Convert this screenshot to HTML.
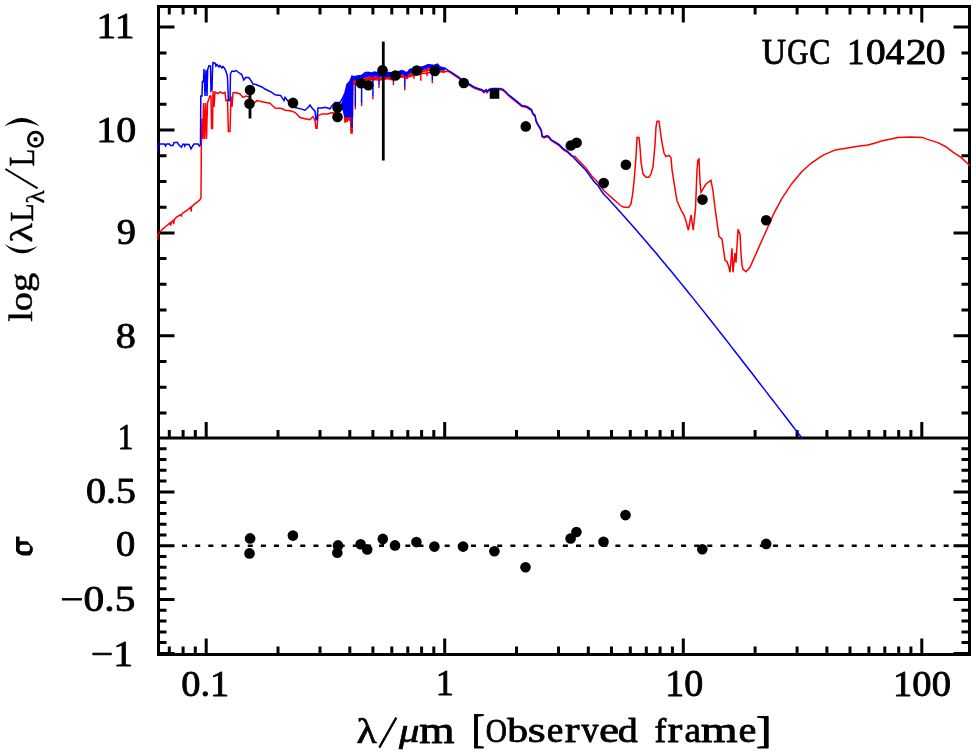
<!DOCTYPE html><html><head><meta charset="utf-8"><style>html,body{margin:0;padding:0;background:#fff;width:976px;height:754px;overflow:hidden}</style></head><body><svg width="976" height="754" viewBox="0 0 976 754" style="position:absolute;left:0;top:0;will-change:transform">
<rect width="976" height="754" fill="#fff"/>
<g stroke="#000" stroke-width="3" fill="none">
<rect x="158.5" y="6.5" width="811.0" height="648.0"/>
<line x1="158.5" y1="438.0" x2="969.5" y2="438.0"/>
<path d="M169.3 6.5L169.3 14.5 M169.3 438.0L169.3 430.0 M169.3 654.5L169.3 646.5 M183.1 6.5L183.1 14.5 M183.1 438.0L183.1 430.0 M183.1 654.5L183.1 646.5 M195.3 6.5L195.3 14.5 M195.3 438.0L195.3 430.0 M195.3 654.5L195.3 646.5 M206.2 6.5L206.2 22.5 M206.2 438.0L206.2 422.0 M206.2 654.5L206.2 638.5 M278.0 6.5L278.0 14.5 M278.0 438.0L278.0 430.0 M278.0 654.5L278.0 646.5 M320.0 6.5L320.0 14.5 M320.0 438.0L320.0 430.0 M320.0 654.5L320.0 646.5 M349.8 6.5L349.8 14.5 M349.8 438.0L349.8 430.0 M349.8 654.5L349.8 646.5 M372.9 6.5L372.9 14.5 M372.9 438.0L372.9 430.0 M372.9 654.5L372.9 646.5 M391.8 6.5L391.8 14.5 M391.8 438.0L391.8 430.0 M391.8 654.5L391.8 646.5 M407.8 6.5L407.8 14.5 M407.8 438.0L407.8 430.0 M407.8 654.5L407.8 646.5 M421.6 6.5L421.6 14.5 M421.6 438.0L421.6 430.0 M421.6 654.5L421.6 646.5 M433.8 6.5L433.8 14.5 M433.8 438.0L433.8 430.0 M433.8 654.5L433.8 646.5 M444.7 6.5L444.7 22.5 M444.7 438.0L444.7 422.0 M444.7 654.5L444.7 638.5 M516.5 6.5L516.5 14.5 M516.5 438.0L516.5 430.0 M516.5 654.5L516.5 646.5 M558.5 6.5L558.5 14.5 M558.5 438.0L558.5 430.0 M558.5 654.5L558.5 646.5 M588.3 6.5L588.3 14.5 M588.3 438.0L588.3 430.0 M588.3 654.5L588.3 646.5 M611.5 6.5L611.5 14.5 M611.5 438.0L611.5 430.0 M611.5 654.5L611.5 646.5 M630.3 6.5L630.3 14.5 M630.3 438.0L630.3 430.0 M630.3 654.5L630.3 646.5 M646.3 6.5L646.3 14.5 M646.3 438.0L646.3 430.0 M646.3 654.5L646.3 646.5 M660.1 6.5L660.1 14.5 M660.1 438.0L660.1 430.0 M660.1 654.5L660.1 646.5 M672.4 6.5L672.4 14.5 M672.4 438.0L672.4 430.0 M672.4 654.5L672.4 646.5 M683.3 6.5L683.3 22.5 M683.3 438.0L683.3 422.0 M683.3 654.5L683.3 638.5 M755.1 6.5L755.1 14.5 M755.1 438.0L755.1 430.0 M755.1 654.5L755.1 646.5 M797.1 6.5L797.1 14.5 M797.1 438.0L797.1 430.0 M797.1 654.5L797.1 646.5 M826.9 6.5L826.9 14.5 M826.9 438.0L826.9 430.0 M826.9 654.5L826.9 646.5 M850.0 6.5L850.0 14.5 M850.0 438.0L850.0 430.0 M850.0 654.5L850.0 646.5 M868.9 6.5L868.9 14.5 M868.9 438.0L868.9 430.0 M868.9 654.5L868.9 646.5 M884.8 6.5L884.8 14.5 M884.8 438.0L884.8 430.0 M884.8 654.5L884.8 646.5 M898.7 6.5L898.7 14.5 M898.7 438.0L898.7 430.0 M898.7 654.5L898.7 646.5 M910.9 6.5L910.9 14.5 M910.9 438.0L910.9 430.0 M910.9 654.5L910.9 646.5 M921.8 6.5L921.8 22.5 M921.8 438.0L921.8 422.0 M921.8 654.5L921.8 638.5 M158.5 412.9L166.5 412.9 M969.5 412.9L961.5 412.9 M158.5 387.2L166.5 387.2 M969.5 387.2L961.5 387.2 M158.5 361.5L166.5 361.5 M969.5 361.5L961.5 361.5 M158.5 335.8L174.5 335.8 M969.5 335.8L953.5 335.8 M158.5 310.1L166.5 310.1 M969.5 310.1L961.5 310.1 M158.5 284.3L166.5 284.3 M969.5 284.3L961.5 284.3 M158.5 258.6L166.5 258.6 M969.5 258.6L961.5 258.6 M158.5 232.9L174.5 232.9 M969.5 232.9L953.5 232.9 M158.5 207.2L166.5 207.2 M969.5 207.2L961.5 207.2 M158.5 181.5L166.5 181.5 M969.5 181.5L961.5 181.5 M158.5 155.8L166.5 155.8 M969.5 155.8L961.5 155.8 M158.5 130.0L174.5 130.0 M969.5 130.0L953.5 130.0 M158.5 104.3L166.5 104.3 M969.5 104.3L961.5 104.3 M158.5 78.6L166.5 78.6 M969.5 78.6L961.5 78.6 M158.5 52.9L166.5 52.9 M969.5 52.9L961.5 52.9 M158.5 27.1L174.5 27.1 M969.5 27.1L953.5 27.1 M158.5 653.4L174.5 653.4 M969.5 653.4L953.5 653.4 M158.5 642.6L166.5 642.6 M969.5 642.6L961.5 642.6 M158.5 631.9L166.5 631.9 M969.5 631.9L961.5 631.9 M158.5 621.1L166.5 621.1 M969.5 621.1L961.5 621.1 M158.5 610.3L166.5 610.3 M969.5 610.3L961.5 610.3 M158.5 599.6L174.5 599.6 M969.5 599.6L953.5 599.6 M158.5 588.8L166.5 588.8 M969.5 588.8L961.5 588.8 M158.5 578.0L166.5 578.0 M969.5 578.0L961.5 578.0 M158.5 567.2L166.5 567.2 M969.5 567.2L961.5 567.2 M158.5 556.5L166.5 556.5 M969.5 556.5L961.5 556.5 M158.5 545.7L174.5 545.7 M969.5 545.7L953.5 545.7 M158.5 534.9L166.5 534.9 M969.5 534.9L961.5 534.9 M158.5 524.2L166.5 524.2 M969.5 524.2L961.5 524.2 M158.5 513.4L166.5 513.4 M969.5 513.4L961.5 513.4 M158.5 502.6L166.5 502.6 M969.5 502.6L961.5 502.6 M158.5 491.9L174.5 491.9 M969.5 491.9L953.5 491.9 M158.5 481.1L166.5 481.1 M969.5 481.1L961.5 481.1 M158.5 470.3L166.5 470.3 M969.5 470.3L961.5 470.3 M158.5 459.5L166.5 459.5 M969.5 459.5L961.5 459.5 M158.5 448.8L166.5 448.8 M969.5 448.8L961.5 448.8"/>
</g>
<defs><clipPath id="cp"><rect x="157" y="5" width="814" height="435"/></clipPath></defs>
<g clip-path="url(#cp)" fill="none" stroke-linejoin="miter" stroke-width="1.5">
<polyline points="157.5,240.0 158.0,234.2 160.0,231.8 163.0,228.8 166.0,226.2 170.0,222.9 170.6,225.5 171.2,222.3 173.0,220.5 173.6,224.2 174.2,220.0 176.0,217.6 180.0,214.9 181.2,215.9 181.8,214.4 183.0,212.9 187.0,210.3 191.0,207.0 191.1,211.6 191.7,206.6 195.0,203.6 198.0,201.6 200.0,199.6 201.0,197.7 201.4,140.0 202.0,118.7 202.8,139.0 203.5,103.0 204.5,139.0 205.5,103.0 206.5,139.0 207.5,103.0 208.5,100.0 210.0,95.8 211.0,96.0 211.5,128.5 212.5,128.5 213.0,91.0 214.0,107.0 215.0,92.0 218.0,93.5 220.0,92.0 223.0,93.5 225.0,92.5 226.0,100.6 227.5,100.0 228.4,131.4 230.0,131.4 231.0,96.4 232.0,107.0 233.0,93.0 236.0,92.5 240.0,94.0 243.0,97.4 246.0,96.0 249.0,97.0 253.0,103.8 257.0,100.6 262.0,101.7 270.0,103.3 274.0,107.0 275.0,108.0 282.0,108.6 285.0,110.2 290.0,110.7 295.0,112.3 300.0,117.6 305.0,118.7 310.0,119.7 313.0,116.5 315.0,120.8 316.0,128.2 317.0,128.2 318.0,115.5 322.0,113.9 328.0,113.9 331.0,112.8 335.0,113.0 340.0,110.0 344.0,107.8 345.0,122.6 346.0,110.0 347.0,122.0 348.0,105.0 349.0,120.0 350.0,100.0 351.0,133.0 352.0,133.0 353.0,82.0 356.0,80.0 362.0,80.0 370.0,79.5 380.0,80.0 388.0,78.3 402.0,77.0 410.0,76.5 420.0,73.8 428.0,73.0 437.0,69.5 441.0,71.3 448.0,71.4 450.0,72.3 453.0,74.4 456.0,76.3 459.0,78.4 461.0,80.0 466.0,83.5 470.0,85.5 474.0,88.0 478.0,89.5 482.0,90.7 484.0,92.6 486.0,90.7 487.0,92.6 489.0,90.4 492.0,89.5 495.0,89.4 500.0,89.4 503.0,90.5 506.0,93.0 508.0,95.3 511.0,97.7 515.0,100.9 519.0,104.1 522.0,106.5 525.0,107.0 527.4,107.8 531.4,110.6 533.0,114.5 535.0,116.1 536.1,121.7 537.7,124.9 540.1,128.9 541.3,131.3 542.1,136.8 544.1,138.0 546.5,136.8 548.5,137.2 551.3,140.8 555.3,143.2 559.2,145.6 563.2,149.6 567.2,152.0 571.2,155.9 575.0,156.5 578.0,159.9 585.9,167.9 592.3,176.6 597.1,181.4 604.2,191.0 612.2,198.1 616.0,201.5 620.0,205.0 623.1,207.1 628.7,207.4 631.0,203.9 632.6,194.3 634.2,180.0 636.0,156.6 637.0,137.6 639.0,137.6 640.0,147.0 641.0,161.7 643.0,173.8 646.0,177.2 649.0,177.2 651.0,173.8 653.0,166.9 655.0,144.5 656.0,127.2 657.0,121.2 659.0,121.2 660.0,129.0 662.0,142.8 664.0,153.0 666.0,156.5 669.0,155.3 671.0,157.7 672.0,169.7 675.0,188.8 677.0,200.7 681.2,210.3 684.0,215.0 686.0,221.4 688.4,230.2 691.1,215.0 693.2,230.2 695.5,208.7 697.0,170.0 697.9,160.0 699.0,158.9 700.0,181.6 701.0,192.3 703.0,188.8 706.0,184.0 711.0,180.4 713.0,191.1 715.0,207.9 717.0,222.2 719.0,236.5 722.0,238.9 724.0,253.2 725.0,260.4 727.0,261.6 729.0,267.5 730.0,272.3 732.0,248.4 733.0,272.3 735.0,253.2 736.0,262.7 738.0,229.3 740.0,234.1 741.0,253.2 742.0,265.1 743.0,269.3 746.0,271.7 750.0,267.3 757.9,249.4 765.9,231.5 773.8,213.6 781.8,198.7 791.7,183.7 801.7,171.8 811.6,162.8 823.6,154.9 835.5,149.9 847.5,147.9 859.4,146.0 866.8,145.2 874.5,143.2 882.3,140.7 888.7,139.4 897.8,137.4 910.0,137.0 922.3,137.4 927.5,139.4 937.8,142.6 945.5,146.5 953.3,152.3 961.0,157.4 970.0,165.8" stroke="#ff0000"/>
<polyline points="157.5,152.0 158.0,144.0 164.5,144.0 165.5,146.0 166.5,144.0 169.5,144.0 170.5,145.5 173.0,145.5 174.0,142.5 177.5,142.5 178.5,144.5 181.5,147.3 183.0,144.0 184.3,144.3 184.8,146.0 185.5,144.3 189.0,144.5 191.0,148.9 193.0,145.5 194.0,144.0 198.0,144.0 199.5,146.0 200.5,145.0 200.8,96.0 202.0,96.0 202.4,81.5 203.5,81.5 204.0,69.0 205.0,96.0 206.0,70.0 207.0,96.0 207.7,69.0 208.3,68.0 209.0,65.6 210.5,66.0 211.0,91.0 212.0,90.0 212.5,70.0 213.0,62.4 215.0,63.0 216.0,66.0 217.0,64.5 219.0,67.0 220.0,65.5 222.0,68.0 223.0,66.5 225.0,69.0 226.5,73.0 227.5,77.0 228.4,100.6 230.0,100.6 230.5,73.6 232.0,71.0 234.0,71.4 236.0,70.5 238.0,72.0 240.0,73.5 241.7,74.6 243.8,80.0 245.9,77.3 249.0,77.8 252.3,82.6 253.0,84.0 256.0,84.5 258.7,85.8 262.0,87.0 265.0,89.0 268.0,90.5 271.4,92.1 275.0,94.8 280.6,95.4 284.0,100.6 285.0,97.4 290.0,103.8 295.0,107.5 300.0,108.6 305.0,110.2 308.0,107.5 310.0,105.0 312.0,108.0 315.0,111.2 316.0,119.7 317.0,119.7 318.0,108.0 322.0,108.0 325.0,107.2 330.0,108.8 332.0,105.6 335.0,102.5 340.0,102.5 343.0,97.2 345.0,92.9 347.0,84.4 350.0,81.2 352.0,76.0 354.0,77.0 357.0,75.9 362.0,75.4 365.0,72.7 368.0,72.2 372.0,73.3 374.0,72.1 380.0,73.0 388.0,72.5 395.0,73.0 402.0,70.5 407.0,73.0 410.0,69.3 416.0,69.0 423.0,67.6 428.0,64.8 434.0,65.5 437.5,64.2 440.0,67.0 445.0,68.2 448.0,70.4 450.0,71.3 453.0,73.4 456.0,75.3 459.0,77.4 461.0,79.0 466.0,82.5 470.0,84.5 474.0,87.0 478.0,88.5 482.0,89.7 484.0,91.6 486.0,89.7 487.0,91.6 489.0,89.4 492.0,88.5 495.0,88.4 500.0,88.4 503.0,89.5 506.0,92.0 508.0,94.3 511.0,96.7 515.0,99.9 519.0,103.1 522.0,105.5 525.0,106.0 527.4,106.8 531.4,109.6 533.0,113.5 535.0,115.1 536.1,120.7 537.7,123.9 540.1,127.9 541.3,130.3 542.1,135.8 544.1,137.0 546.5,135.8 548.5,136.2 551.3,139.8 555.3,142.2 559.2,144.6 563.2,148.6 567.2,151.0 571.2,154.9 578.0,162.3 585.9,170.3 593.9,181.4 597.9,185.4 601.8,191.5 604.0,194.4 608.0,198.6 612.0,203.0 616.0,207.3 620.0,211.8 624.0,216.2 628.0,220.7 632.0,225.2 636.0,229.8 640.0,234.4 644.0,239.0 648.0,243.7 652.0,248.4 656.0,253.1 660.0,257.9 664.0,262.7 668.0,267.5 672.0,272.3 676.0,277.2 680.0,282.1 684.0,287.0 688.0,292.0 692.0,296.9 696.0,301.9 700.0,306.9 704.0,311.9 708.0,317.0 712.0,322.0 716.0,327.1 720.0,332.2 724.0,337.3 728.0,342.4 732.0,347.6 736.0,352.7 740.0,357.8 744.0,363.0 748.0,368.2 752.0,373.3 756.0,378.5 760.0,383.7 764.0,388.9 768.0,394.1 772.0,399.3 776.0,404.4 780.0,409.6 784.0,414.8 788.0,420.0 792.0,425.2 796.0,430.4 800.0,435.5 801.3,437.2 802.5,438.8" stroke="#0000ff"/>
<line x1="345.5" y1="100" x2="345.5" y2="117" stroke="#0000ff" stroke-width="1.5"/>
<line x1="347" y1="95" x2="347" y2="116" stroke="#0000ff" stroke-width="1.5"/>
<line x1="348.5" y1="88" x2="348.5" y2="117" stroke="#0000ff" stroke-width="1.5"/>
<line x1="350" y1="84" x2="350" y2="116" stroke="#0000ff" stroke-width="1.5"/>
<line x1="352" y1="78" x2="352" y2="128" stroke="#0000ff" stroke-width="1.5"/>
<line x1="352" y1="128" x2="352" y2="133" stroke="#ff0000" stroke-width="1.5"/>
<line x1="353.7" y1="76" x2="353.7" y2="85.5" stroke="#ff0000" stroke-width="1.5"/>
<line x1="355.3" y1="77" x2="355.3" y2="106" stroke="#0000ff" stroke-width="1.5"/>
<line x1="355.3" y1="106" x2="355.3" y2="109.4" stroke="#ff0000" stroke-width="1.5"/>
<line x1="361.6" y1="76" x2="361.6" y2="103" stroke="#0000ff" stroke-width="1.5"/>
<line x1="361.6" y1="103" x2="361.6" y2="106.2" stroke="#ff0000" stroke-width="1.5"/>
<line x1="372.9" y1="73" x2="372.9" y2="96" stroke="#0000ff" stroke-width="1.5"/>
<line x1="372.9" y1="96" x2="372.9" y2="99.2" stroke="#ff0000" stroke-width="1.5"/>
<line x1="379" y1="73" x2="379" y2="85" stroke="#0000ff" stroke-width="1.5"/>
<line x1="379" y1="85" x2="379" y2="88.1" stroke="#ff0000" stroke-width="1.5"/>
<line x1="393.4" y1="74" x2="393.4" y2="82" stroke="#0000ff" stroke-width="1.5"/>
<line x1="393.4" y1="82" x2="393.4" y2="85.2" stroke="#ff0000" stroke-width="1.5"/>
<line x1="404.8" y1="72" x2="404.8" y2="87" stroke="#0000ff" stroke-width="1.5"/>
<line x1="404.8" y1="87" x2="404.8" y2="90.2" stroke="#ff0000" stroke-width="1.5"/>
<line x1="413.9" y1="70" x2="413.9" y2="78.7" stroke="#ff0000" stroke-width="1.5"/>
<line x1="420.8" y1="70" x2="420.8" y2="80.7" stroke="#ff0000" stroke-width="1.5"/>
<line x1="427" y1="66" x2="427" y2="76.2" stroke="#ff0000" stroke-width="1.5"/>
<line x1="432.3" y1="67" x2="432.3" y2="80" stroke="#0000ff" stroke-width="1.5"/>
<line x1="432.3" y1="80" x2="432.3" y2="83.2" stroke="#ff0000" stroke-width="1.5"/>
<polygon points="344.5,116 345.5,122.5 346.5,118 347.5,122 348.5,117.5 349.5,121 350.5,117 351,116" fill="#ff0000" stroke="#ff0000" stroke-width="1"/>
<polygon points="341,104.5 343,97.2 345,92.9 347,84.4 350,81.2 352,76 353.2,76 353.2,117 344.5,117.5 342.5,110" fill="#0000ff" stroke="none"/>
<polygon points="353.0,76.0 357.0,75.9 362.0,74.5 365.0,73.4 368.0,72.2 372.0,72.5 376.0,72.1 380.0,73.0 385.0,72.5 388.0,72.5 392.0,73.5 395.0,73.0 400.0,71.0 402.0,70.1 407.0,72.5 410.0,69.5 414.0,68.0 418.0,67.0 423.0,66.0 428.0,64.3 434.0,65.0 437.5,64.2 440.0,67.0 445.0,68.6 445.0,70.6 440.0,70.1 437.5,67.9 434.0,69.0 428.0,68.3 423.0,70.0 418.0,71.0 414.0,72.0 410.0,73.5 407.0,77.0 402.0,74.6 400.0,75.5 395.0,77.5 392.0,78.0 388.0,77.0 385.0,77.0 380.0,77.5 376.0,76.6 372.0,77.0 368.0,76.7 365.0,77.9 362.0,79.0 357.0,80.4 353.0,80.5" fill="#0000ff"/>
<polygon points="353.0,80.5 357.0,80.4 362.0,79.0 365.0,77.9 368.0,76.7 372.0,77.0 376.0,76.6 380.0,77.5 385.0,77.0 388.0,77.0 392.0,78.0 395.0,77.5 400.0,75.5 402.0,74.6 407.0,77.0 410.0,73.5 414.0,72.0 418.0,71.0 423.0,70.0 428.0,68.3 434.0,69.0 437.5,67.9 440.0,70.1 445.0,70.6 445.0,73.1 440.0,72.6 437.5,70.4 434.0,71.5 428.0,70.8 423.0,72.5 418.0,73.5 414.0,74.5 410.0,76.0 407.0,79.5 402.0,77.1 400.0,78.0 395.0,80.0 392.0,80.5 388.0,79.5 385.0,79.5 380.0,80.0 376.0,79.1 372.0,79.5 368.0,79.2 365.0,80.4 362.0,81.5 357.0,82.9 353.0,83.0" fill="#ff0000"/>
</g>
<g fill="#000" stroke="none">
<circle cx="250" cy="90" r="5.3"/>
<circle cx="249.5" cy="103.8" r="5.3"/>
<circle cx="293" cy="102.9" r="5.3"/>
<circle cx="337.5" cy="107.5" r="5.3"/>
<circle cx="337.5" cy="117" r="5.3"/>
<circle cx="361" cy="83.2" r="5.3"/>
<circle cx="368.3" cy="85.2" r="5.3"/>
<circle cx="382.5" cy="70.3" r="5.3"/>
<circle cx="395.4" cy="75.5" r="5.3"/>
<circle cx="416.7" cy="70.5" r="5.3"/>
<circle cx="434.8" cy="70.9" r="5.3"/>
<circle cx="463.8" cy="83" r="5.3"/>
<circle cx="525.8" cy="126.4" r="5.3"/>
<circle cx="570.8" cy="145.5" r="5.3"/>
<circle cx="576.6" cy="142.8" r="5.3"/>
<circle cx="603.7" cy="183.1" r="5.3"/>
<circle cx="625.9" cy="164.8" r="5.3"/>
<circle cx="702.5" cy="199.6" r="5.3"/>
<circle cx="766.2" cy="220.2" r="5.3"/>
<circle cx="494.4" cy="551.2" r="5.3"/>
<circle cx="250.1" cy="538.4" r="5.3"/>
<circle cx="249.5" cy="553.4" r="5.3"/>
<circle cx="292.9" cy="535.6" r="5.3"/>
<circle cx="338" cy="545.4" r="5.3"/>
<circle cx="337.3" cy="552.8" r="5.3"/>
<circle cx="360.6" cy="544.3" r="5.3"/>
<circle cx="367.2" cy="549.5" r="5.3"/>
<circle cx="382.8" cy="538.9" r="5.3"/>
<circle cx="395" cy="545.4" r="5.3"/>
<circle cx="416.4" cy="542.1" r="5.3"/>
<circle cx="434.4" cy="546.6" r="5.3"/>
<circle cx="463.1" cy="546.6" r="5.3"/>
<circle cx="525.5" cy="567.2" r="5.3"/>
<circle cx="570.6" cy="538.5" r="5.3"/>
<circle cx="576.4" cy="532" r="5.3"/>
<circle cx="603.5" cy="541.8" r="5.3"/>
<circle cx="625.5" cy="515.1" r="5.3"/>
<circle cx="702.3" cy="549.2" r="5.3"/>
<circle cx="766.2" cy="543.9" r="5.3"/>
<rect x="489.7" y="88.8" width="9.6" height="10"/>
</g>
<g stroke="#000" stroke-width="2.8">
<line x1="383.3" y1="41.6" x2="383.3" y2="160.5"/>
<line x1="250" y1="85" x2="250" y2="118.5"/>
<line x1="382.8" y1="538.9" x2="382.8" y2="545"/>
</g>
<line x1="182.1" y1="545.7" x2="949" y2="545.7" stroke="#000" stroke-width="2.6" stroke-dasharray="5 8.13"/>
<g fill="#000" stroke="#000" stroke-width="0.8" stroke-linejoin="round">
<text transform="translate(96.422,38.000) scale(1.1245,1.0000)" font-family="'Liberation Serif', serif" font-size="35" stroke-width="0.8" >11</text>
<text transform="translate(96.371,142.201) scale(1.1423,1.0128)" font-family="'Liberation Serif', serif" font-size="35" stroke-width="0.8" >10</text>
<text transform="translate(116.681,243.957) scale(1.0968,1.0029)" font-family="'Liberation Serif', serif" font-size="35" stroke-width="0.8" >9</text>
<text transform="translate(115.630,347.606) scale(1.1528,1.0510)" font-family="'Liberation Serif', serif" font-size="35" stroke-width="0.8" >8</text>
<text transform="translate(117.810,449.000) scale(0.8870,1.0299)" font-family="'Liberation Serif', serif" font-size="35" stroke-width="0.8" >1</text>
<text transform="translate(86.043,502.770) scale(1.1434,1.0029)" font-family="'Liberation Serif', serif" font-size="35" stroke-width="0.8" >0.5</text>
<text transform="translate(116.069,556.196) scale(1.1013,1.0029)" font-family="'Liberation Serif', serif" font-size="35" stroke-width="0.8" >0</text>
<text transform="translate(60.210,611.229) scale(1.1840,1.0029)" font-family="'Liberation Serif', serif" font-size="35" stroke-width="0.8" >&#8722;0.5</text>
<text transform="translate(90.863,665.802) scale(1.1317,1.0337)" font-family="'Liberation Serif', serif" font-size="35" stroke-width="0.8" >&#8722;1</text>
<text transform="translate(181.300,696.197) scale(1.0976,1.0510)" font-family="'Liberation Serif', serif" font-size="35" stroke-width="0.8" >0.1</text>
<text transform="translate(435.679,695.361) scale(1.0372,1.0128)" font-family="'Liberation Serif', serif" font-size="35" stroke-width="0.8" >1</text>
<text transform="translate(665.334,695.590) scale(1.0848,1.0683)" font-family="'Liberation Serif', serif" font-size="35" stroke-width="0.8" >10</text>
<text transform="translate(893.079,695.802) scale(1.1022,1.0337)" font-family="'Liberation Serif', serif" font-size="35" stroke-width="0.8" >100</text>
<text transform="translate(761.779,63.757) scale(0.9609,1.0128)" font-family="'Liberation Serif', serif" font-size="35" stroke-width="0.8" >U</text>
<text transform="translate(787.327,63.757) scale(0.8363,1.0128)" font-family="'Liberation Serif', serif" font-size="35" stroke-width="0.8" >G</text>
<text transform="translate(809.300,63.757) scale(0.9048,1.0128)" font-family="'Liberation Serif', serif" font-size="35" stroke-width="0.8" >C</text>
<text transform="translate(846.952,63.757) scale(1.0028,1.0128)" font-family="'Liberation Serif', serif" font-size="35" stroke-width="0.8" >1</text>
<text transform="translate(865.880,63.757) scale(1.1250,1.0128)" font-family="'Liberation Serif', serif" font-size="35" stroke-width="0.8" >0</text>
<text transform="translate(885.393,63.757) scale(1.0825,1.0128)" font-family="'Liberation Serif', serif" font-size="35" stroke-width="0.8" >4</text>
<text transform="translate(905.795,63.757) scale(1.2019,1.0128)" font-family="'Liberation Serif', serif" font-size="35" stroke-width="0.8" >2</text>
<text transform="translate(925.659,63.757) scale(1.1269,1.0128)" font-family="'Liberation Serif', serif" font-size="35" stroke-width="0.8" >0</text>
<text transform="translate(356.578,743.238) scale(1.2012,0.9958)" font-family="'Liberation Serif', serif" font-size="35" stroke-width="0.7" >&#955;</text>
<text transform="translate(399.000,742.485) scale(1.1657,0.9374)" font-family="'Liberation Serif', serif" font-size="35" stroke-width="0.7" font-style="italic">&#956;</text>
<text transform="translate(419.197,743.217) scale(1.2968,1.0606)" font-family="'Liberation Serif', serif" font-size="35" stroke-width="0.8" >m</text>
<text transform="translate(471.505,743.295) scale(1.1388,1.1484)" font-family="'Liberation Serif', serif" font-size="35" stroke-width="0.8" >[</text>
<text transform="translate(485.749,742.365) scale(0.8355,0.9791)" font-family="'Liberation Serif', serif" font-size="35" stroke-width="0.8" >O</text>
<text transform="translate(507.176,742.398) scale(1.1932,0.9398)" font-family="'Liberation Serif', serif" font-size="35" stroke-width="0.8" >b</text>
<text transform="translate(527.839,742.402) scale(1.3236,1.0365)" font-family="'Liberation Serif', serif" font-size="35" stroke-width="0.8" >s</text>
<text transform="translate(546.663,742.402) scale(1.0681,1.0365)" font-family="'Liberation Serif', serif" font-size="35" stroke-width="0.8" >e</text>
<text transform="translate(564.778,742.402) scale(1.2685,1.0365)" font-family="'Liberation Serif', serif" font-size="35" stroke-width="0.8" >r</text>
<text transform="translate(581.552,742.402) scale(0.9799,1.0365)" font-family="'Liberation Serif', serif" font-size="35" stroke-width="0.8" >v</text>
<text transform="translate(598.913,742.402) scale(1.2878,1.0365)" font-family="'Liberation Serif', serif" font-size="35" stroke-width="0.8" >e</text>
<text transform="translate(617.859,742.398) scale(1.1445,0.9398)" font-family="'Liberation Serif', serif" font-size="35" stroke-width="0.8" >d</text>
<text transform="translate(654.384,742.432) scale(1.0038,0.9400)" font-family="'Liberation Serif', serif" font-size="35" stroke-width="0.8" >f</text>
<text transform="translate(667.601,742.402) scale(1.2692,1.0365)" font-family="'Liberation Serif', serif" font-size="35" stroke-width="0.8" >r</text>
<text transform="translate(684.533,742.402) scale(1.0588,1.0365)" font-family="'Liberation Serif', serif" font-size="35" stroke-width="0.8" >a</text>
<text transform="translate(700.782,742.402) scale(1.3562,1.0365)" font-family="'Liberation Serif', serif" font-size="35" stroke-width="0.8" >m</text>
<text transform="translate(738.613,742.402) scale(1.1474,1.0365)" font-family="'Liberation Serif', serif" font-size="35" stroke-width="0.8" >e</text>
<text transform="translate(755.987,743.449) scale(1.3367,1.1080)" font-family="'Liberation Serif', serif" font-size="35" stroke-width="0.8" >]</text>
<text transform="translate(31.962,321.799) rotate(-90) scale(1.0956,0.9541)" font-family="'Liberation Serif', serif" font-size="35" stroke-width="0.5" >log</text>
<text transform="translate(32.228,242.568) rotate(-90) scale(1.1511,0.9306)" font-family="'Liberation Serif', serif" font-size="35" stroke-width="0.5" >&#955;</text>
<text transform="translate(32.623,221.457) rotate(-90) scale(0.8436,0.9858)" font-family="'Liberation Serif', serif" font-size="35" stroke-width="0.5" >L</text>
<text transform="translate(44.000,203.602) rotate(-90) scale(1.1424,1.0070)" font-family="'Liberation Serif', serif" font-size="24" stroke-width="0.4" >&#955;</text>
<text transform="translate(33.573,166.254) rotate(-90) scale(0.8126,1.0299)" font-family="'Liberation Serif', serif" font-size="35" stroke-width="0.5" >L</text>
</g>
<circle cx="35.5" cy="139.3" r="7.2" fill="none" stroke="#000" stroke-width="2.6"/>
<rect x="33.6" y="137.4" width="3.8" height="3.8" fill="#000"/>
<path fill-rule="evenodd" fill="#000" d="M16 536.4H19.6V541.3H27.4L32.8 547.6V551L31.3 554.1L29.6 555.5H22.4L17.9 553.6L16 551ZM22 544.8H27.5Q29.9 544.8 29.9 547.2V548.9Q29.9 551.3 27.5 551.3H22Q19.6 551.3 19.6 548.9V547.2Q19.6 544.8 22 544.8Z"/>
<line x1="379.3" y1="747.6" x2="396.3" y2="717.6" stroke="#000" stroke-width="2.3"/>
<path d="M4 126.6Q22 109.6 40 126.6Q22 117.6 4 126.6Z" fill="#000"/>
<path d="M4.4 244Q21 261.7 37.8 245.9Q21 254.5 4.4 244Z" fill="#000"/>
<line x1="5.4" y1="169" x2="37.6" y2="188.3" stroke="#000" stroke-width="2"/>
</svg></body></html>
